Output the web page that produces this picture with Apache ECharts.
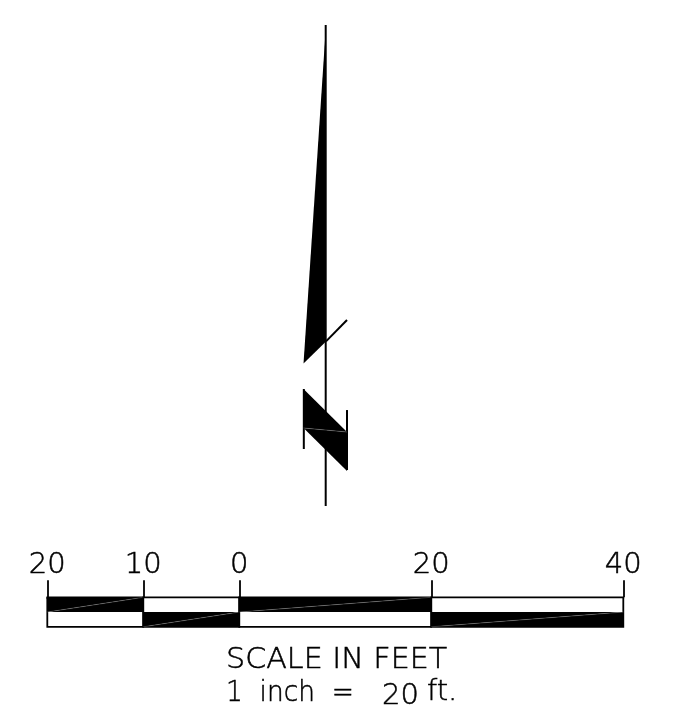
<!DOCTYPE html>
<html><head><meta charset="utf-8">
<style>html,body{margin:0;padding:0;background:#fff}#c{width:686px;height:719px}</style>
<script src="https://cdn.jsdelivr.net/npm/echarts@6/dist/echarts.min.js"></script>
</head><body><div id="c"></div>
<script>
// Scale bar, in feet
const tickValues = [-20, -10, 0, 20, 40];
const segmentStart = [-20, -10, 0, 20];
const segmentEnd = [-10, 0, 20, 40];
const filledRow = [1, 0, 1, 0]; // 1 = upper half black, 0 = lower half black
// North arrow, in feet on the same scale
const arrowBlade = [[9.03, 62.71], [6.69, 27.45], [9.03, 29.75]];
const nUpper = [[6.69, 24.79], [11.22, 20.31], [6.69, 20.73]];
const nLower = [[6.69, 20.73], [11.22, 20.31], [11.22, 16.25]];
const arrowLines = [
  [[9.0, 62.71], [9.0, 12.60]],
  [[9.03, 29.75], [11.22, 31.98]],
  [[6.72, 24.79], [6.72, 18.54]],
  [[11.22, 22.60], [11.22, 16.35]]
];
const captionLine1 = 'SCALE IN FEET';
const captionLine2 = '1  inch  =';
const captionScale = '20';
const captionUnit = 'ft.';

const FONT = "'DejaVu Sans'";
const chart = echarts.init(document.getElementById('c'), null, {renderer: 'canvas'});
const polys = [arrowBlade, nUpper, nLower];

function cap(text, x, y, scaleX) {
  return {type: 'text', x, y, scaleX: scaleX || 1, silent: true, style: {text, fill: '#000', stroke: '#000', lineWidth: 0.5, font: `200 29px ${FONT}`, textAlign: 'left', verticalAlign: 'middle'}};
}

chart.setOption({
  animation: false,
  backgroundColor: '#fff',
  grid: [
    {left: 47.3, width: 576, top: 0, height: 627},
    {left: 47.3, width: 576, top: 597.3, height: 29.5}
  ],
  xAxis: [
    {gridIndex: 0, type: 'value', min: -20, max: 40, show: false},
    {gridIndex: 1, type: 'value', min: -20, max: 40, position: 'top',
      axisLine: {show: true, onZero: false, lineStyle: {color: '#000', width: 1.8}},
      axisTick: {show: true, customValues: tickValues, length: 17, lineStyle: {color: '#000', width: 1.8}},
      axisLabel: {show: true, customValues: tickValues, margin: 17, color: '#000', fontFamily: FONT, fontWeight: 200, fontSize: 29,
        textBorderColor: '#000', textBorderWidth: 0.5,
        showMinLabel: true, showMaxLabel: true, alignMinLabel: 'center', alignMaxLabel: 'center',
        formatter: v => String(Math.abs(v))},
      splitLine: {show: false}}
  ],
  yAxis: [
    {gridIndex: 0, type: 'value', min: 0, max: 65.3125, show: false},
    {gridIndex: 1, type: 'value', min: 0, max: 2, show: false}
  ],
  graphic: [
    cap(captionLine1, 226, 660, 1.04),
    cap(captionLine2, 226, 693, 0.91),
    cap(captionScale, 382, 696),
    cap(captionUnit, 427, 692)
  ],
  series: [
    {
      type: 'custom', xAxisIndex: 1, yAxisIndex: 1, clip: false, silent: true,
      data: segmentStart.map((s, i) => [s, segmentEnd[i], filledRow[i]]),
      encode: {x: [0, 1]},
      renderItem(p, api) {
        const x0 = api.value(0), x1 = api.value(1), up = api.value(2);
        const lo = up ? 1 : 0, hi = lo + 1;
        const a = api.coord([x0, lo]), b = api.coord([x1, lo]), c = api.coord([x1, hi]), d = api.coord([x0, hi]);
        const q0 = api.coord([x0, 0]), q1 = api.coord([x1, 0]), q2 = api.coord([x1, 2]), q3 = api.coord([x0, 2]);
        return {type: 'group', children: [
          {type: 'polygon', shape: {points: [q0, q1, q2, q3]}, style: {fill: '#fff', stroke: '#000', lineWidth: 1.8}},
          {type: 'polygon', shape: {points: [a, b, c]}, style: {fill: '#000'}},
          {type: 'polygon', shape: {points: [a, c, d]}, style: {fill: '#000'}},
          {type: 'line', shape: {x1: a[0], y1: a[1], x2: c[0], y2: c[1]}, style: {stroke: '#fff', lineWidth: 0.4, opacity: 0.55}}
        ]};
      }
    },
    {
      type: 'custom', xAxisIndex: 0, yAxisIndex: 0, clip: false, silent: true,
      data: arrowLines.map(l => [l[0][0], l[0][1], l[1][0], l[1][1]]),
      encode: {x: [0, 2], y: [1, 3]},
      renderItem(p, api) {
        const a = api.coord([api.value(0), api.value(1)]), b = api.coord([api.value(2), api.value(3)]);
        return {type: 'line', shape: {x1: a[0], y1: a[1], x2: b[0], y2: b[1]}, style: {stroke: '#000', lineWidth: 2}};
      }
    },
    {
      type: 'custom', xAxisIndex: 0, yAxisIndex: 0, clip: false, silent: true,
      data: polys.map((q, i) => [q[0][0], q[0][1], i]),
      encode: {x: 0, y: 1},
      renderItem(p, api) {
        const q = polys[api.value(2)];
        return {type: 'polygon', shape: {points: q.map(v => api.coord(v))}, style: {fill: '#000'}};
      }
    },
    {
      type: 'custom', xAxisIndex: 0, yAxisIndex: 0, clip: false, silent: true, z: 5,
      data: [[nUpper[2][0], nUpper[2][1], nUpper[1][0], nUpper[1][1]]],
      encode: {x: [0, 2], y: [1, 3]},
      renderItem(p, api) {
        const a = api.coord([api.value(0), api.value(1)]), b = api.coord([api.value(2), api.value(3)]);
        return {type: 'line', shape: {x1: a[0], y1: a[1], x2: b[0], y2: b[1]}, style: {stroke: '#fff', lineWidth: 0.4, opacity: 0.55}};
      }
    }
  ]
});
</script></body></html>
